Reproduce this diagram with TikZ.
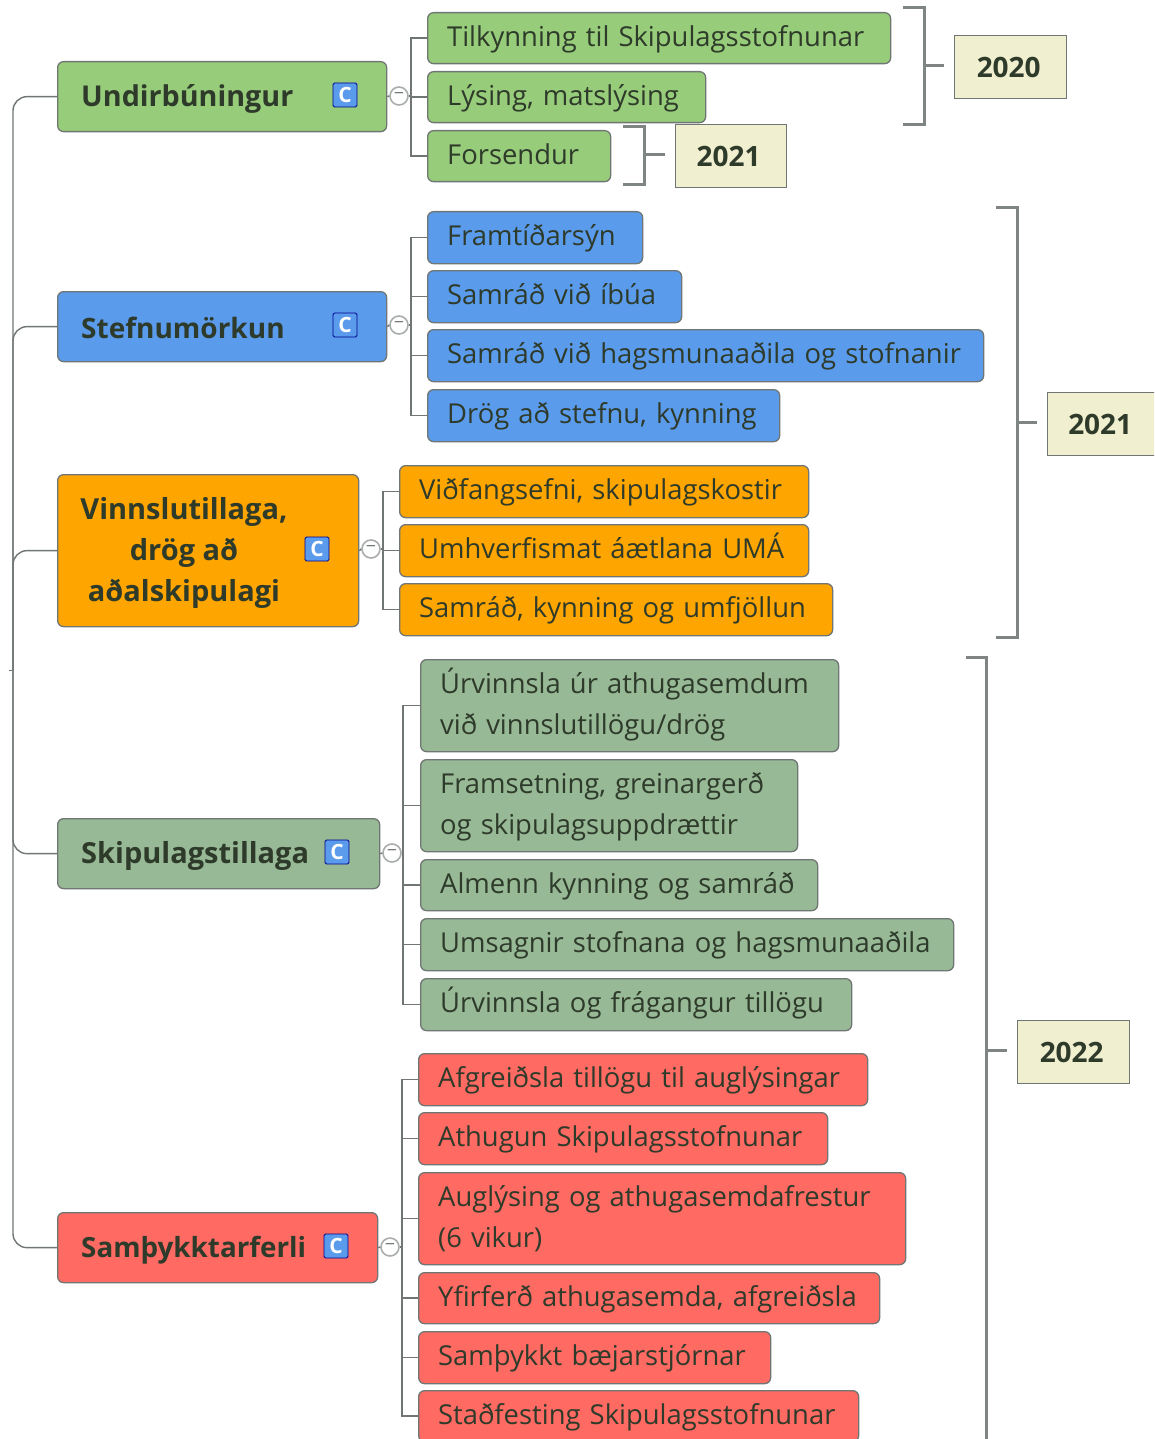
\documentclass[tikz,border=0pt]{standalone}
\usepackage{fontspec}
\setmainfont{Open Sans}
\definecolor{cgreen}{HTML}{97CC7A}
\definecolor{cblue}{HTML}{5B9BEB}
\definecolor{corange}{HTML}{FFA500}
\definecolor{csage}{HTML}{97B996}
\definecolor{cred}{HTML}{FF6A63}
\definecolor{cnote}{HTML}{F0EFCF}
\definecolor{ctext}{HTML}{2E3A2A}
\definecolor{cline}{HTML}{6F7673}
\definecolor{cbrack}{HTML}{7F8583}
\tikzset{
 x=1pt,y=-1pt,
 boxbase/.style={draw=cline,line width=1.3pt,rounded corners=6pt,anchor=north west,inner sep=0pt,text=ctext},
 main/.style={boxbase},
 maintext/.style={text=ctext,inner sep=0pt,align=center},
 sub/.style={boxbase,font=\fontsize{27.4}{41}\selectfont,align=left},
 note/.style={draw=cline,line width=1.4pt,fill=cnote,anchor=north west,inner sep=0pt,text=ctext,font=\fontsize{28}{36}\selectfont\bfseries,align=center},
 cicon/.style={draw=blue!55!black,line width=.8pt,rounded corners=1.5pt,fill=cblue,text=white,minimum size=24pt,inner sep=0pt,font=\fontsize{21}{21}\selectfont\bfseries},
 collapse/.style={circle,draw=cline!60!white,line width=1.6pt,fill=white,minimum size=18pt,inner sep=0pt,font=\fontsize{18}{18}\selectfont,text=cline},
 conn/.style={draw=cline,line width=1.4pt},
 brack/.style={draw=cbrack,line width=3pt},
}
\newcommand{\mybox}[8]{%
 \pgfmathsetlengthmacro{\bw}{#6-#4}\pgfmathsetlengthmacro{\bh}{#7-#5}%
 \node[#2,fill=#3,minimum width=\bw,minimum height=\bh] (#1) at (#4,#5) {#8};}
\newcommand{\subbox}[7]{%
 \pgfmathsetlengthmacro{\bw}{#5-#3}\pgfmathsetlengthmacro{\bh}{#6-#4}%
 \node[sub,fill=#2,minimum height=\bh,text width=\bw,inner xsep=0pt] (#1) at (#3,#4) {\hspace*{19.5pt}\raisebox{-3pt}{\begin{tabular}{@{}l@{}}#7\end{tabular}}};}
\newcommand{\mfont}[1]{\fontsize{#1}{41}\selectfont\bfseries}
\begin{document}
\begin{tikzpicture}
\useasboundingbox (0,0) rectangle (1154,1439);
\clip (0,0) rectangle (1154,1439);
\fill[white] (0,0) rectangle (1154,1439);

% main nodes
\mybox{m1}{main}{cgreen}{57}{61}{386}{131}{}
\node[maintext,anchor=west,font=\mfont{28.7}] (t1) at (81,99) {Undirbúningur};
\mybox{m2}{main}{cblue}{57}{291}{386}{361}{}
\node[maintext,anchor=west,font=\mfont{28}] (t2) at (81,328) {Stefnumörkun};
\mybox{m3}{main}{corange}{57}{474}{358}{626}{}
\node[maintext,font=\mfont{29}] (t3) at (184,553) {Vinnslutillaga,\\drög að\\aðalskipulagi};
\mybox{m4}{main}{csage}{57}{818}{379}{888}{}
\node[maintext,anchor=west,font=\mfont{29}] (t4) at (81,856) {Skipulagstillaga};
\mybox{m5}{main}{cred}{57}{1212}{377}{1282}{}
\node[maintext,anchor=west,font=\mfont{27.8}] (t5) at (81,1250) {Samþykktarferli};

% icons
\node[cicon] (i1) at (345,95) {C};
\node[cicon] (i2) at (345,325) {C};
\node[cicon] (i3) at (317,549) {C};
\node[cicon] (i4) at (337,852) {C};
\node[cicon] (i5) at (336,1246) {C};

% children
\subbox{a1}{cgreen}{427}{12}{890}{63}{Tilkynning til Skipulagsstofnunar}
\subbox{a2}{cgreen}{427}{71}{705}{122}{Lýsing, matslýsing}
\subbox{a3}{cgreen}{427}{130}{610}{181}{Forsendur}
\subbox{b1}{cblue}{427}{211}{642}{263}{Framtíðarsýn}
\subbox{b2}{cblue}{427}{270}{681}{322}{Samráð við íbúa}
\subbox{b3}{cblue}{427}{329}{983}{381}{Samráð við hagsmunaaðila og stofnanir}
\subbox{b4}{cblue}{427}{389}{779}{441}{Drög að stefnu, kynning}
\subbox{c1}{corange}{399}{465}{808}{517}{Viðfangsefni, skipulagskostir}
\subbox{c2}{corange}{399}{524}{808}{576}{Umhverfismat áætlana UMÁ}
\subbox{c3}{corange}{399}{583}{832}{635}{Samráð, kynning og umfjöllun}
\subbox{d1}{csage}{420}{659}{838}{751}{Úrvinnsla úr athugasemdum\\við vinnslutillögu/drög}
\subbox{d2}{csage}{420}{759}{797}{851}{Framsetning, greinargerð\\og skipulagsuppdrættir}
\subbox{d3}{csage}{420}{859}{817}{910}{Almenn kynning og samráð}
\subbox{d4}{csage}{420}{918}{953}{970}{Umsagnir stofnana og hagsmunaaðila}
\subbox{d5}{csage}{420}{978}{851}{1030}{Úrvinnsla og frágangur tillögu}
\subbox{e1}{cred}{418}{1053}{867}{1105}{Afgreiðsla tillögu til auglýsingar}
\subbox{e2}{cred}{418}{1112}{827}{1164}{Athugun Skipulagsstofnunar}
\subbox{e3}{cred}{418}{1172}{905}{1264}{Auglýsing og athugasemdafrestur\\(6 vikur)}
\subbox{e4}{cred}{418}{1272}{879}{1323}{Yfirferð athugasemda, afgreiðsla}
\subbox{e5}{cred}{418}{1331}{770}{1383}{Samþykkt bæjarstjórnar}
\subbox{e6}{cred}{418}{1390}{858}{1441}{Staðfesting Skipulagsstofnunar}

% collapse markers
\node[collapse] (k1) at (399,96) {−};
\node[collapse] (k2) at (399,325) {−};
\node[collapse] (k3) at (371,549) {−};
\node[collapse] (k4) at (392,853) {−};
\node[collapse] (k5) at (390,1247) {−};

% notes
\mybox{n1}{note}{cnote}{954}{35}{1066}{98}{\hspace*{-4pt}2020}
\mybox{n2}{note}{cnote}{675}{124}{786}{187}{\hspace*{-5pt}2021}
\mybox{n3}{note}{cnote}{1047}{392}{1160}{455}{\hspace*{-8pt}2021}
\mybox{n4}{note}{cnote}{1017}{1020}{1129}{1083}{\hspace*{-4pt}2022}

% left trunk
\coordinate (top) at (13,670);
\coordinate (tick) at (9,670);
\draw[conn,rounded corners=14pt] (m1.west) -| (top);
\draw[conn,rounded corners=14pt] (m2.west) -| (top);
\draw[conn,rounded corners=14pt] (m3.west) -| (top);
\draw[conn,rounded corners=14pt] (m4.west) -| (top);
\draw[conn,rounded corners=14pt] (m5.west) -| (top);
\draw[conn,line width=.8pt] (tick) -- (top);

% branch connectors
\foreach \p/\c in {m1/k1,m2/k2,m3/k3,m4/k4,m5/k5} \draw[conn] (\p.east) -- (\c.west);
\foreach \k/\x/\list in {k1/411/{a1,a2,a3},k2/411/{b1,b2,b3,b4},k3/383/{c1,c2,c3},k4/403/{d1,d2,d3,d4,d5},k5/402/{e1,e2,e3,e4,e5,e6}}{
 \coordinate (j) at (\x,0);
 \draw[conn] (\k.east) -- (j |- \k.east);
 \foreach \c in \list \draw[conn] (j |- \k.east) |- (\c.west);
}

% brackets
\coordinate (b1a) at (903,8); \coordinate (b1b) at (903,125); \coordinate (b1c) at (924,66); \coordinate (b1d) at (944,66);
\draw[brack] (b1a) -| (b1c) |- (b1b);
\draw[brack] (b1c) -- (b1d);
\coordinate (b2a) at (623,127); \coordinate (b2b) at (623,185); \coordinate (b2c) at (644,155); \coordinate (b2d) at (665,155);
\draw[brack] (b2a) -| (b2c) |- (b2b);
\draw[brack] (b2c) -- (b2d);
\coordinate (b3a) at (996,208); \coordinate (b3b) at (996,637); \coordinate (b3c) at (1017,422); \coordinate (b3d) at (1037,422);
\draw[brack] (b3a) -| (b3c) |- (b3b);
\draw[brack] (b3c) -- (b3d);
\coordinate (b4a) at (966,657); \coordinate (b4b) at (986,1450); \coordinate (b4c) at (986,1050); \coordinate (b4d) at (1007,1050);
\draw[brack] (b4a) -| (b4b);
\draw[brack] (b4c) -- (b4d);
\end{tikzpicture}
\end{document}
